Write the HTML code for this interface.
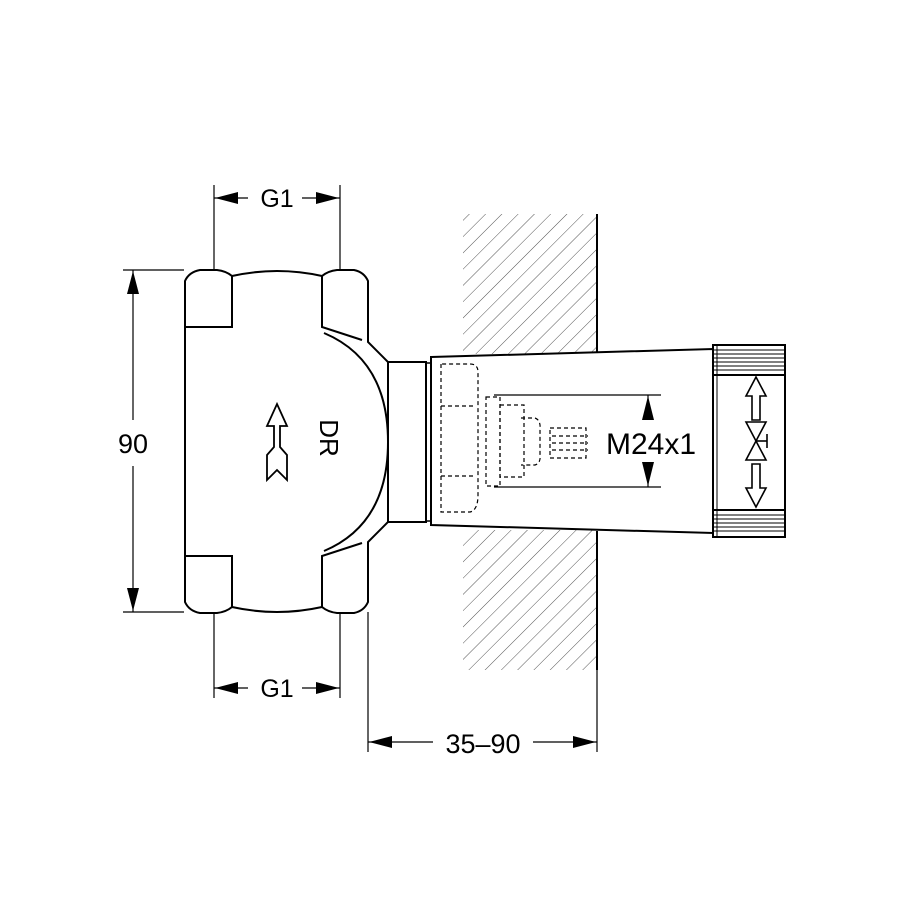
<!DOCTYPE html>
<html><head><style>html,body{margin:0;padding:0;background:#fff}svg{display:block}</style></head>
<body>
<svg width="900" height="900" viewBox="0 0 900 900" xmlns="http://www.w3.org/2000/svg" font-family="Liberation Sans, Arial, sans-serif">
<defs>
<pattern id="h" patternUnits="userSpaceOnUse" width="11.5" height="11.5" patternTransform="rotate(45)">
<line x1="0" y1="0" x2="0" y2="11.5" stroke="#555" stroke-width="1"/>
</pattern>
<clipPath id="w1"><rect x="463" y="214" width="134" height="140"/><rect x="463" y="530" width="134" height="140"/></clipPath>
</defs>
<rect width="900" height="900" fill="#fff"/>
<rect x="463" y="214" width="134" height="456" fill="url(#h)" clip-path="url(#w1)"/>
<g stroke="#000" fill="none" stroke-width="2">
<line x1="597" y1="214" x2="597" y2="352"/>
<line x1="597" y1="531" x2="597" y2="670"/>
</g>
<polygon points="431,357 713,349 713,533 431,525" fill="#fff" stroke="#000" stroke-width="2"/>
<g stroke="#000" stroke-width="2" fill="#fff">
<path d="M185,281 Q189,272 200,270 L217,270 Q226,271 232,276 Q277,266 322,276 Q328,271 337,270 L354,270 Q364,272 368,281 L368,342 L388,362 L388,522 L368,542 L368,602 Q364,611 354,613 L337,613 Q328,612 322,607 Q277,617 232,607 Q226,612 217,613 L200,613 Q189,611 185,602 Z"/>
</g>
<g stroke="#000" stroke-width="2" fill="none">
<polyline points="185,327 232,327 232,276"/>
<polyline points="185,556 232,556 232,607"/>
<polyline points="322,276 322,327 362,340"/>
<polyline points="322,607 322,556 362,543"/>
<path d="M324,333 Q388,360 388,442 Q388,524 324,551"/>
<rect x="388" y="362" width="38" height="160"/>
<rect x="426" y="363" width="5" height="158" stroke-width="1.5"/>
</g>
<path d="M277,404 L287,426 L280,426 L280,447 L287,455 L287,480 L277,470 L267,480 L267,455 L274,447 L274,426 L267,426 Z" fill="none" stroke="#000" stroke-width="1.8"/>
<text x="327" y="438" font-size="26" text-anchor="middle" transform="rotate(90 327 438)" dominant-baseline="middle">DR</text>
<g stroke="#000" stroke-width="1.2" fill="none" stroke-dasharray="4,3">
<path d="M441,364 L441,512 L470,512 Q478,510 478,495 L478,372 Q478,364 470,364 Z"/>
<line x1="441" y1="406" x2="475" y2="406"/>
<line x1="441" y1="476" x2="475" y2="476"/>
<rect x="486" y="397" width="14" height="89"/>
<rect x="500" y="405" width="24" height="72"/>
<path d="M521,418 L535,418 Q541,420 540,430 L540,455 Q541,463 535,465 L521,465"/>
<rect x="550" y="428" width="36" height="30"/>
<line x1="552" y1="436" x2="588" y2="436"/><line x1="552" y1="443" x2="588" y2="443"/><line x1="552" y1="450" x2="588" y2="450"/>
</g>
<rect x="713" y="345" width="72" height="192" fill="#fff" stroke="#000" stroke-width="2"/>
<line x1="717" y1="346" x2="717" y2="536" stroke="#000" stroke-width="1"/>
<g stroke="#000" stroke-width="1">
<line x1="713" y1="350" x2="785" y2="350"/><line x1="713" y1="354" x2="785" y2="354"/><line x1="713" y1="358" x2="785" y2="358"/><line x1="713" y1="362" x2="785" y2="362"/><line x1="713" y1="366" x2="785" y2="366"/><line x1="713" y1="370" x2="785" y2="370"/><line x1="713" y1="375" x2="785" y2="375" stroke-width="2"/>
<line x1="713" y1="510" x2="785" y2="510" stroke-width="2"/><line x1="713" y1="515" x2="785" y2="515"/><line x1="713" y1="519" x2="785" y2="519"/><line x1="713" y1="523" x2="785" y2="523"/><line x1="713" y1="527" x2="785" y2="527"/><line x1="713" y1="531" x2="785" y2="531"/>
</g>
<g stroke="#000" stroke-width="1.6" fill="none">
<path d="M756,377 L766,396 L760,396 L760,420 L752,420 L752,396 L746,396 Z"/>
<path d="M746,422 L766,422 L746,460 L766,460 Z"/>
<line x1="756" y1="441" x2="767" y2="441"/><line x1="767" y1="434" x2="767" y2="448"/>
<path d="M756,507 L766,488 L760,488 L760,464 L752,464 L752,488 L746,488 Z"/>
</g>
<g stroke="#000" stroke-width="1.2">
<line x1="494" y1="395" x2="661" y2="395"/><line x1="494" y1="487" x2="661" y2="487"/>
<line x1="648" y1="395" x2="648" y2="420"/><line x1="648" y1="462" x2="648" y2="487"/>
</g>
<polygon points="648,396 642,420 654,420"/><polygon points="648,486 642,462 654,462"/>
<text x="651" y="454" font-size="30" text-anchor="middle">M24x1</text>
<g stroke="#000" stroke-width="1.2">
<line x1="123" y1="270" x2="184" y2="270"/><line x1="123" y1="612" x2="184" y2="612"/>
<line x1="133" y1="270" x2="133" y2="420"/><line x1="133" y1="466" x2="133" y2="612"/>
<line x1="214" y1="185" x2="214" y2="270"/><line x1="340" y1="185" x2="340" y2="270"/>
<line x1="214" y1="198" x2="248" y2="198"/><line x1="302" y1="198" x2="340" y2="198"/>
<line x1="214" y1="612" x2="214" y2="698"/><line x1="340" y1="612" x2="340" y2="698"/>
<line x1="214" y1="688" x2="248" y2="688"/><line x1="302" y1="688" x2="340" y2="688"/>
<line x1="368" y1="612" x2="368" y2="752"/><line x1="597" y1="670" x2="597" y2="752"/>
<line x1="368" y1="742" x2="433" y2="742"/><line x1="533" y1="742" x2="597" y2="742"/>
</g>
<g fill="#000">
<polygon points="133,271 127,294 139,294"/><polygon points="133,611 127,588 139,588"/>
<polygon points="215,198 238,192 238,204"/><polygon points="339,198 316,192 316,204"/>
<polygon points="215,688 238,682 238,694"/><polygon points="339,688 316,682 316,694"/>
<polygon points="369,742 392,736 392,748"/><polygon points="596,742 573,736 573,748"/>
</g>
<text x="133" y="453" font-size="27" text-anchor="middle">90</text>
<text x="277" y="207" font-size="25" text-anchor="middle">G1</text>
<text x="277" y="697" font-size="25" text-anchor="middle">G1</text>
<text x="483" y="753" font-size="27" text-anchor="middle">35–90</text>
</svg>
</body></html>
